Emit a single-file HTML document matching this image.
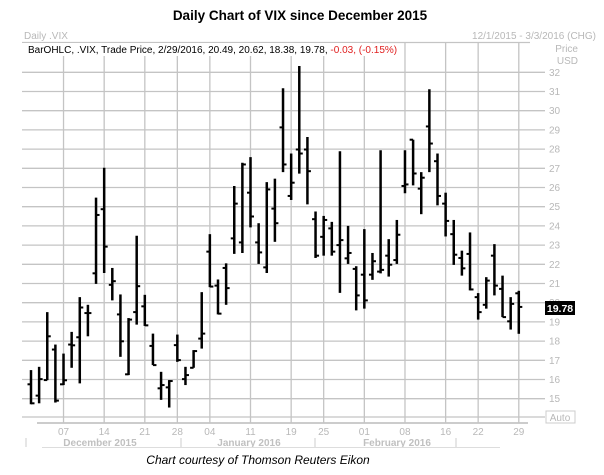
<!DOCTYPE html>
<html><head><meta charset="utf-8"><style>
body{margin:0;background:#fff;}
svg{display:block;font-family:"Liberation Sans",sans-serif;}
</style></head><body>
<svg id="c" width="604" height="475">
<text x="300" y="20" text-anchor="middle" font-size="13.5" font-weight="bold">Daily Chart of VIX since December 2015</text>
<text x="24" y="39" font-size="10" fill="#b8b8b8">Daily .VIX</text>
<text x="596" y="39" text-anchor="end" font-size="10" fill="#b8b8b8">12/1/2015 - 3/3/2016 (CHG)</text>
<text x="578" y="52" text-anchor="end" font-size="10" fill="#b8b8b8">Price</text>
<text x="578" y="64" text-anchor="end" font-size="10" fill="#b8b8b8">USD</text>
<g id="grid"></g>
<g id="bars"></g>
<rect x="22" y="43" width="350" height="13" fill="#fff"/>
<text x="28" y="53" font-size="10">BarOHLC, .VIX, Trade Price, 2/29/2016, 20.49, 20.62, 18.38, 19.78, <tspan fill="#e02020">-0.03, (-0.15%)</tspan></text>
<rect x="545" y="301" width="30" height="14" fill="#000"/>
<text x="560" y="312" text-anchor="middle" font-size="10.5" font-weight="bold" fill="#fff">19.78</text>
<rect x="546" y="411" width="29" height="12" fill="#fff" stroke="#ccc"/>
<text x="560" y="421" text-anchor="middle" font-size="10" fill="#b8b8b8">Auto</text>
<text x="258" y="464" text-anchor="middle" font-size="12" font-style="italic">Chart courtesy of Thomson Reuters Eikon</text>
</svg>
<script>
const opens=[15.75,15.16,15.97,17.56,15.75,17.82,18.20,19.46,21.53,24.87,20.93,19.39,16.27,19.51,19.81,17.75,15.54,15.59,17.79,16.02,16.61,18.13,22.66,20.89,21.81,23.35,23.14,25.73,23.14,21.84,24.90,29.13,25.56,27.98,27.98,24.35,23.43,23.87,23.00,22.31,21.76,21.46,21.46,21.62,22.45,22.22,26.08,28.49,25.94,29.18,27.37,25.16,23.57,22.33,22.54,20.29,19.89,22.45,20.72,19.03,20.49];
const highs=[16.49,16.66,19.51,17.82,17.35,18.48,20.29,19.89,25.47,27.03,21.81,20.43,19.20,23.49,20.41,18.39,16.40,15.97,18.34,16.66,17.53,20.55,23.57,21.21,22.05,26.08,27.29,27.58,24.14,26.28,26.46,31.17,27.77,32.33,28.63,24.75,24.52,24.21,27.89,24.00,21.90,23.83,22.59,27.94,23.31,24.31,27.94,28.49,26.80,31.12,27.77,25.73,24.31,22.71,23.66,20.50,21.33,23.05,21.41,20.29,20.62];
const lows=[14.71,14.76,15.97,14.80,15.71,16.61,15.80,18.25,20.98,21.55,20.12,17.18,16.23,18.86,18.79,16.75,14.94,14.54,16.92,15.71,16.61,17.61,20.81,19.39,19.89,22.54,22.59,23.92,22.02,21.55,23.17,26.80,25.35,26.72,25.12,22.33,22.45,22.45,20.51,22.02,19.60,19.69,21.19,21.53,21.36,22.02,25.70,26.11,24.61,26.80,25.07,23.45,21.97,21.41,20.64,19.12,19.69,20.38,19.25,18.60,18.38];
const closes=[14.76,16.02,18.25,14.90,15.96,17.78,19.75,19.46,24.57,22.92,21.12,17.99,19.12,20.86,18.82,16.75,15.71,15.92,17.01,16.23,17.48,18.39,20.84,19.43,20.76,25.16,27.20,24.49,22.62,25.90,24.14,27.20,26.25,27.77,26.85,22.45,24.31,22.66,23.26,22.59,20.38,20.12,22.16,21.71,21.98,23.54,26.16,26.73,26.51,28.29,25.56,24.26,22.50,21.79,20.69,19.51,21.15,20.89,19.25,19.94,19.78];
const yTicks=[15,16,17,18,19,20,21,22,23,24,25,26,27,28,29,30,31,32];
const xTickLabels=["07","14","21","28","04","11","19","25","01","08","16","22","29"];
const xTickIdx=[4,9,14,18,22,27,32,36,41,46,51,55,60];
const months=["December 2015","January 2016","February 2016"];
const monthCenters=[100,249,397];

const NS="http://www.w3.org/2000/svg";
const X=i=>31+i*8.13;
const Y=v=>72.3+(32-v)*19.2;
function mk(t,a,p){const e=document.createElementNS(NS,t);for(const k in a)e.setAttribute(k,a[k]);p.appendChild(e);return e;}
const g=document.getElementById('grid'),b=document.getElementById('bars');
const GC="#c4c4c4";
mk('line',{x1:22,x2:530,y1:42.5,y2:42.5,stroke:GC,'stroke-width':1.2},g);
yTicks.forEach(v=>{
  const l=mk('line',{x1:22,x2:545,y1:Y(v),y2:Y(v),stroke:GC,'stroke-width':1.3},g);
  
  
  const t=mk('text',{x:549,y:Y(v)+3.5,'font-size':10,fill:'#b8b8b8'},g);
  t.textContent=v;
  
  
});
mk('line',{x1:22,x2:545,y1:417,y2:417,stroke:GC,'stroke-width':1.3},g);
mk('line',{x1:37,x2:528,y1:423,y2:423,stroke:'#999','stroke-width':1},g);
xTickIdx.forEach((i,k)=>{
  mk('line',{x1:X(i),x2:X(i),y1:42,y2:423,stroke:GC,'stroke-width':1.3},g);
  const t=mk('text',{x:X(i),y:435,'text-anchor':'middle','font-size':10,fill:'#b8b8b8'},g);
  t.textContent=xTickLabels[k];
  
  
});
months.forEach((m,k)=>{
  const t=mk('text',{x:monthCenters[k],y:446,'text-anchor':'middle','font-size':10,'font-weight':'bold',fill:'#c0c0c0'},g);
  t.textContent=m;
  
  
});
[26,181,315,456].forEach(x=>mk('line',{x1:x,x2:x,y1:438,y2:447,stroke:'#ccc'},g));
mk('line',{x1:42,x2:500,y1:447.5,y2:447.5,stroke:'#ddd'},g);
opens.forEach((o,i)=>{
  const x=X(i);
  const grp=mk('g',{},b);
  
  
  mk('line',{x1:x,x2:x,y1:Y(highs[i]),y2:Y(lows[i]),stroke:'#000','stroke-width':2.5},grp);
  mk('line',{x1:x-3.5,x2:x,y1:Y(o),y2:Y(o),stroke:'#000','stroke-width':2},grp);
  mk('line',{x1:x,x2:x+3.5,y1:Y(closes[i]),y2:Y(closes[i]),stroke:'#000','stroke-width':2},grp);
});
</script>
</body></html>
